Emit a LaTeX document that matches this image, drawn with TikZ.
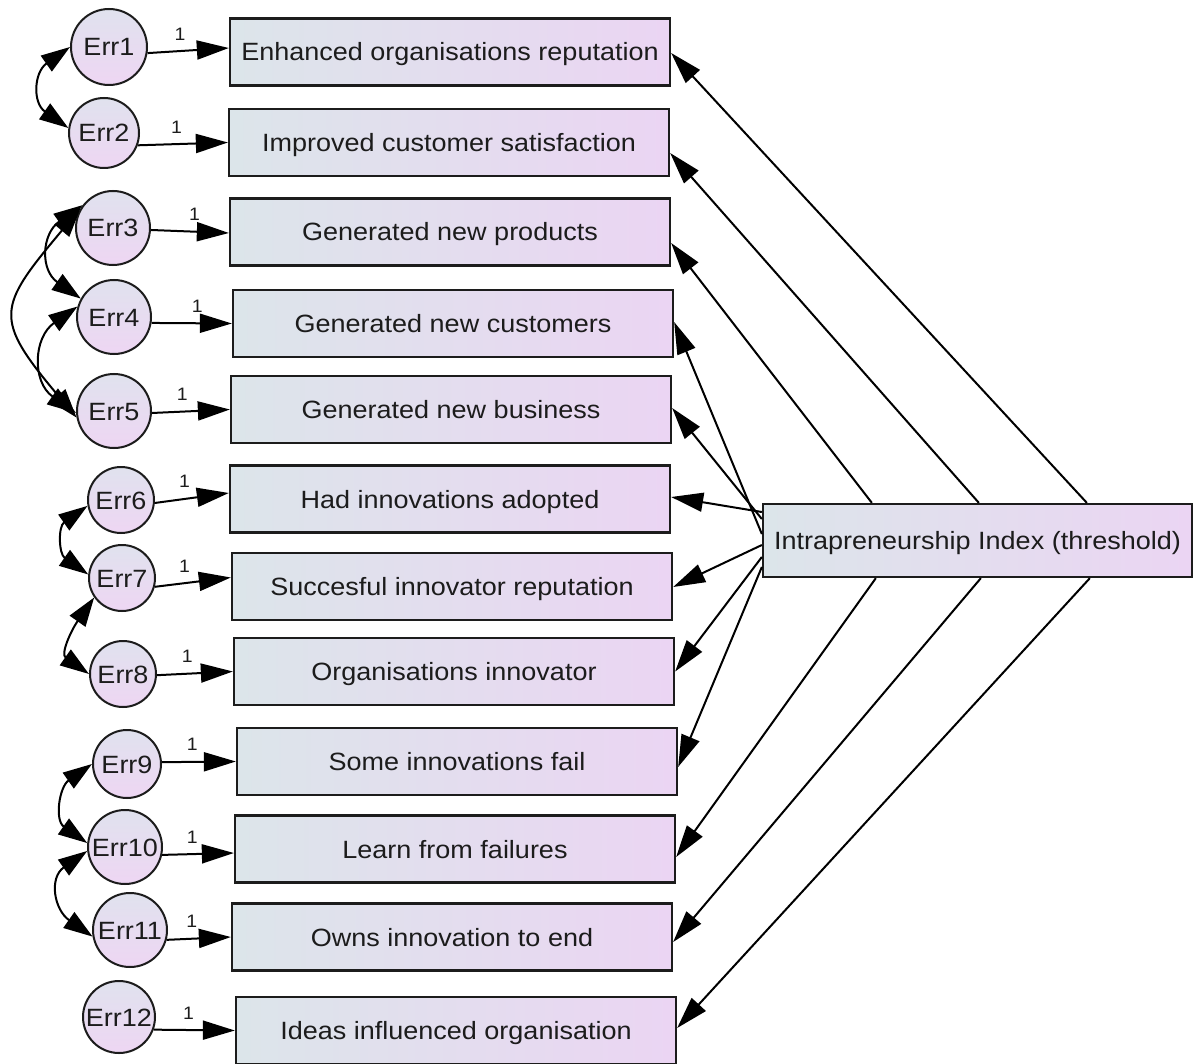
\documentclass[tikz,border=0pt]{standalone}
\usepackage{fontspec}
\setmainfont{Liberation Sans}[FakeStretch=1.08]
\usetikzlibrary{arrows.meta}
\definecolor{fillL}{RGB}{220,229,234}
\definecolor{fillR}{RGB}{235,213,243}
\definecolor{circT}{RGB}{224,226,238}
\definecolor{circB}{RGB}{238,214,243}
\definecolor{inkc}{RGB}{28,28,28}
\begin{document}
\begin{tikzpicture}[x=1pt,y=1pt,
  obs/.style={draw=inkc, line width=2.3pt, left color=fillL, right color=fillR,
    minimum width=440pt, minimum height=67pt, inner sep=0pt, text=inkc,
    text height=18pt, text depth=0pt, font=\fontsize{25}{30}\selectfont},
  errc/.style={circle, draw=inkc, line width=2pt, top color=circT, bottom color=circB,
    inner sep=0pt, text=inkc, text height=18pt, text depth=0pt,
    font=\fontsize{25}{30}\selectfont},
  path/.style={line width=2pt, draw=black, -{Triangle[length=32pt,width=19pt]}},
  cov/.style={line width=2pt, draw=black,
    {Triangle[length=29pt,width=19pt]}-{Triangle[length=29pt,width=19pt]}},
  lbl/.style={font=\fontsize{18}{20}\selectfont, inner sep=1pt, text=inkc}]

\useasboundingbox (0,0) rectangle (1198,-1064);

% observed indicators
\node[obs] (b1)  at (450,-52)    {Enhanced organisations reputation};
\node[obs] (b2)  at (449,-142.5) {Improved customer satisfaction};
\node[obs] (b3)  at (450,-232)   {Generated new products};
\node[obs] (b4)  at (453,-323.5) {Generated new customers};
\node[obs] (b5)  at (451,-409.5) {Generated new business};
\node[obs] (b6)  at (450,-499)   {Had innovations adopted};
\node[obs] (b7)  at (452,-586.5) {Succesful innovator reputation};
\node[obs] (b8)  at (454,-671.5) {Organisations innovator};
\node[obs] (b9)  at (457,-761.5) {Some innovations fail};
\node[obs] (b10) at (455,-849)   {Learn from failures};
\node[obs] (b11) at (452,-937)   {Owns innovation to end};
\node[obs] (b12) at (456,-1030.5){Ideas influenced organisation};

% latent index
\node[obs, minimum width=429pt, minimum height=73pt] (ix) at (977.5,-540.5)
  {Intrapreneurship Index (threshold)};

% error terms
\node[errc, minimum size=76pt] (e1)  at (109,-47)   {Err1};
\node[errc, minimum size=70pt] (e2)  at (104,-133)  {Err2};
\node[errc, minimum size=74pt] (e3)  at (113,-228)  {Err3};
\node[errc, minimum size=74pt] (e4)  at (114,-317)  {Err4};
\node[errc, minimum size=74pt] (e5)  at (114,-411)  {Err5};
\node[errc, minimum size=66pt] (e6)  at (121,-500)  {Err6};
\node[errc, minimum size=66pt] (e7)  at (122,-578)  {Err7};
\node[errc, minimum size=66pt] (e8)  at (123,-674)  {Err8};
\node[errc, minimum size=68pt] (e9)  at (127,-764)  {Err9};
\node[errc, minimum size=74pt] (e10) at (125,-847)  {Err10};
\node[errc, minimum size=74pt] (e11) at (130,-930)  {Err11};
\node[errc, minimum size=72pt] (e12) at (119,-1017) {Err12};

% error paths fixed to 1
\draw[path] (e1.-9)   -- node[lbl, pos=0.4,  above=9pt] {1} ([yshift=4pt]b1.west);
\draw[path] (e2.-20)  -- node[lbl, pos=0.43, above=9pt] {1} (b2.west);
\draw[path] (e3.-3)   -- node[lbl, pos=0.56, above=9pt] {1} ([yshift=-1pt]b3.west);
\draw[path] (e4.-9)   -- node[lbl, pos=0.57, above=9pt] {1} (b4.west);
\draw[path] (e5.-3)   -- node[lbl, pos=0.39, above=9pt] {1} (b5.west);
\draw[path] (e6.-5)   -- node[lbl, pos=0.4,  above=9pt] {1} ([yshift=6pt]b6.west);
\draw[path] (e7.-15)  -- node[lbl, pos=0.39, above=9pt] {1} ([yshift=9pt]b7.west);
\draw[path] (e8.-2)   -- node[lbl, pos=0.4,  above=9pt] {1} (b8.west);
\draw[path] (e9.3)    -- node[lbl, pos=0.41, above=9pt] {1} (b9.west);
\draw[path] (e10.-12) -- node[lbl, pos=0.42, above=9pt] {1} ([yshift=-4pt]b10.west);
\draw[path] (e11.-15) -- node[lbl, pos=0.39, above=9pt] {1} (b11.west);
\draw[path] (e12.-20) -- node[lbl, pos=0.43, above=9pt] {1} (b12.west);

% loadings of the index
\draw[path] ([xshift=325pt]ix.north west) -- ([yshift=-1pt]b1.east);
\draw[path] ([xshift=217pt]ix.north west) -- ([yshift=-10.5pt]b2.east);
\draw[path] ([xshift=110pt]ix.north west) -- ([yshift=-11pt]b3.east);
\draw[path] ([yshift=6.5pt]ix.west)  -- ([yshift=1.5pt]b4.east);
\draw[path] ([yshift=21.5pt]ix.west) -- ([yshift=1.5pt]b5.east);
\draw[path] ([yshift=28.5pt]ix.west) -- ([yshift=2pt]b6.east);
\draw[path] ([yshift=-4.5pt]ix.west) -- ([yshift=-0.5pt]b7.east);
\draw[path] ([yshift=-16.5pt]ix.west) -- (b8.east);
\draw[path] ([yshift=-26.5pt]ix.west) -- ([yshift=-5.5pt]b9.east);
\draw[path] ([xshift=114pt]ix.south west) -- ([yshift=-8pt]b10.east);
\draw[path] ([xshift=219pt]ix.south west) -- ([yshift=-5pt]b11.east);
\draw[path] ([xshift=328pt]ix.south west) -- ([yshift=2.5pt]b12.east);

% error covariances
\draw[cov] (e1.180)  .. controls +(215:44) and +(145:44) .. (e2.172);
\draw[cov] (e3.143)  .. controls +(215:50) and +(145:50) .. (e4.151);
\draw[cov] (e4.164)  .. controls +(215:54) and +(145:54) .. (e5.183);
\draw[cov] (e3.149)  .. controls +(230:130) and +(130:130) .. (e5.190);
\draw[cov] (e6.190)  .. controls +(215:36) and +(145:36) .. (e7.174);
\draw[cov] (e7.215)  .. controls +(235:40) and +(145:35) .. (e8.180);
\draw[cov] (e9.180)  .. controls +(215:40) and +(145:40) .. (e10.174);
\draw[cov] (e10.186) .. controls +(215:47) and +(145:47) .. (e11.190);

\end{tikzpicture}
\end{document}
